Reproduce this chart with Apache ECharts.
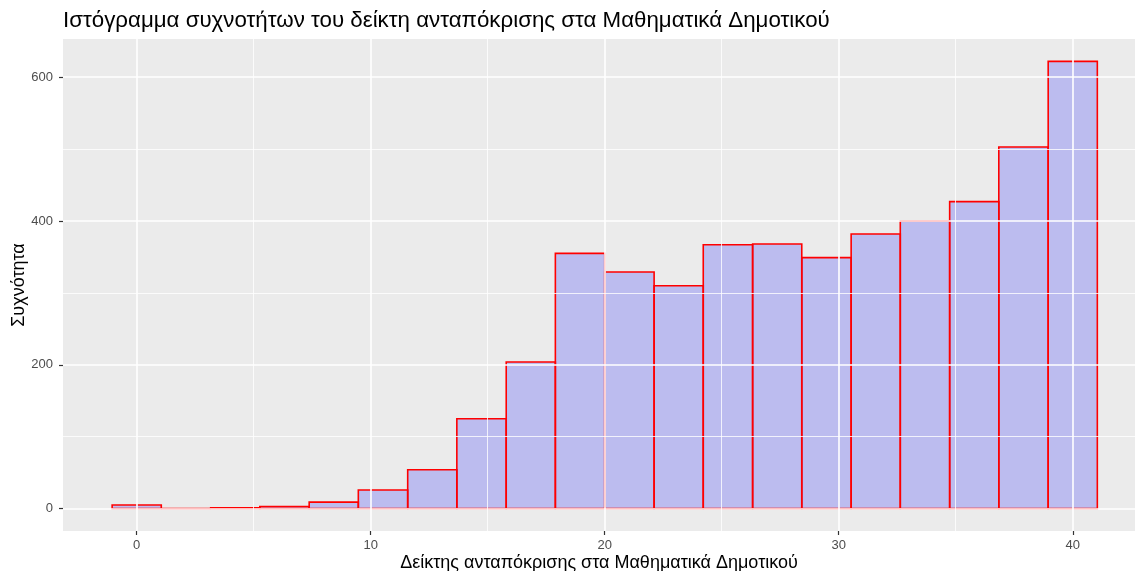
<!DOCTYPE html>
<html>
<head>
<meta charset="utf-8">
<script src="https://cdn.jsdelivr.net/npm/echarts@6/dist/echarts.min.js"></script>
<style>
  html, body { margin: 0; padding: 0; background: #fff; }
  #chart { width: 1135px; height: 571px; }
</style>
</head>
<body>
<div id="chart"></div>
<script>
// histogram bins (edges) and counts
const binEdges = [-1.05, 1.05, 3.16, 5.26, 7.37, 9.47, 11.58, 13.68, 15.79, 17.89, 20.0,
  22.11, 24.21, 26.32, 28.42, 30.53, 32.63, 34.74, 36.84, 38.95, 41.05];
const counts = [5, 0, 1, 3, 9, 26, 54, 125, 204, 355, 329, 310, 367, 368, 349, 382, 400, 427, 503, 622];
const xTicks = [0, 10, 20, 30, 40];
const xMinor = [5, 15, 25, 35];
const yTicks = [0, 200, 400, 600];
const yMinor = [100, 300, 500];

const titleText = 'Ιστόγραμμα συχνοτήτων του δείκτη ανταπόκρισης στα Μαθηματικά Δημοτικού';
const xName = 'Δείκτης ανταπόκρισης στα Μαθηματικά Δημοτικού';
const yName = 'Συχνότητα';

const FONT = '"Liberation Sans", Arial, sans-serif';

const bars = counts.map((c, i) => [binEdges[i], binEdges[i + 1], c]);

const gridLines = [];
xTicks.forEach(v => gridLines.push({ xAxis: v, lineStyle: { width: 1.6 } }));
xMinor.forEach(v => gridLines.push({ xAxis: v, lineStyle: { width: 0.8 } }));
yTicks.forEach(v => gridLines.push({ yAxis: v, lineStyle: { width: 1.6 } }));
yMinor.forEach(v => gridLines.push({ yAxis: v, lineStyle: { width: 0.8 } }));

const myChart = echarts.init(document.getElementById('chart'), null, { renderer: 'canvas' });
myChart.setOption({
  animation: false,
  backgroundColor: '#fff',
  title: {
    text: titleText,
    left: 58,
    top: 5,
    textStyle: { fontFamily: FONT, fontSize: 22.3, fontWeight: 'normal', color: '#000' }
  },
  grid: {
    left: 63, right: 0, top: 39, bottom: 40,
    outerBoundsMode: 'none',
    containLabel: false,
    show: true, backgroundColor: '#EBEBEB', borderWidth: 0
  },
  xAxis: {
    type: 'value',
    min: -3.15,
    max: 42.66,
    name: xName,
    nameLocation: 'middle',
    nameGap: 23,
    nameMoveOverlap: false,
    nameTextStyle: { fontFamily: FONT, fontSize: 18, color: '#000' },
    axisLine: { show: true, onZero: false, lineStyle: { color: 'rgba(0,0,0,0)' } },
    splitLine: { show: false },
    axisTick: { show: true, customValues: xTicks, length: 4, lineStyle: { color: '#333', width: 1.2 } },
    axisLabel: { customValues: xTicks, fontFamily: FONT, fontSize: 13, color: '#4D4D4D', margin: 8 }
  },
  yAxis: {
    type: 'value',
    min: -31.1,
    max: 653.1,
    name: yName,
    nameLocation: 'middle',
    nameGap: 35,
    nameMoveOverlap: false,
    nameRotate: 90,
    nameTextStyle: { fontFamily: FONT, fontSize: 18, color: '#000' },
    axisLine: { show: true, onZero: false, lineStyle: { color: 'rgba(0,0,0,0)' } },
    splitLine: { show: false },
    axisTick: { show: true, customValues: yTicks, length: 4, lineStyle: { color: '#333', width: 1.2 } },
    axisLabel: { customValues: yTicks, fontFamily: FONT, fontSize: 13, color: '#4D4D4D', margin: 10 }
  },
  series: [
    {
      type: 'line',
      data: [],
      z: 1,
      silent: true,
      markLine: {
        silent: true,
        symbol: 'none',
        label: { show: false },
        lineStyle: { color: '#fff', type: 'solid' },
        data: gridLines
      }
    },
    {
      type: 'custom',
      z: 2,
      data: bars,
      renderItem: function (params, api) {
        const p0 = api.coord([api.value(0), api.value(2)]);
        const p1 = api.coord([api.value(1), 0]);
        return {
          type: 'rect',
          shape: { x: p0[0], y: p0[1], width: p1[0] - p0[0], height: p1[1] - p0[1] },
          style: { fill: 'rgba(0,0,255,0.2)', stroke: '#FF0000', lineWidth: 1.6 }
        };
      }
    }
  ]
});
</script>
</body>
</html>
